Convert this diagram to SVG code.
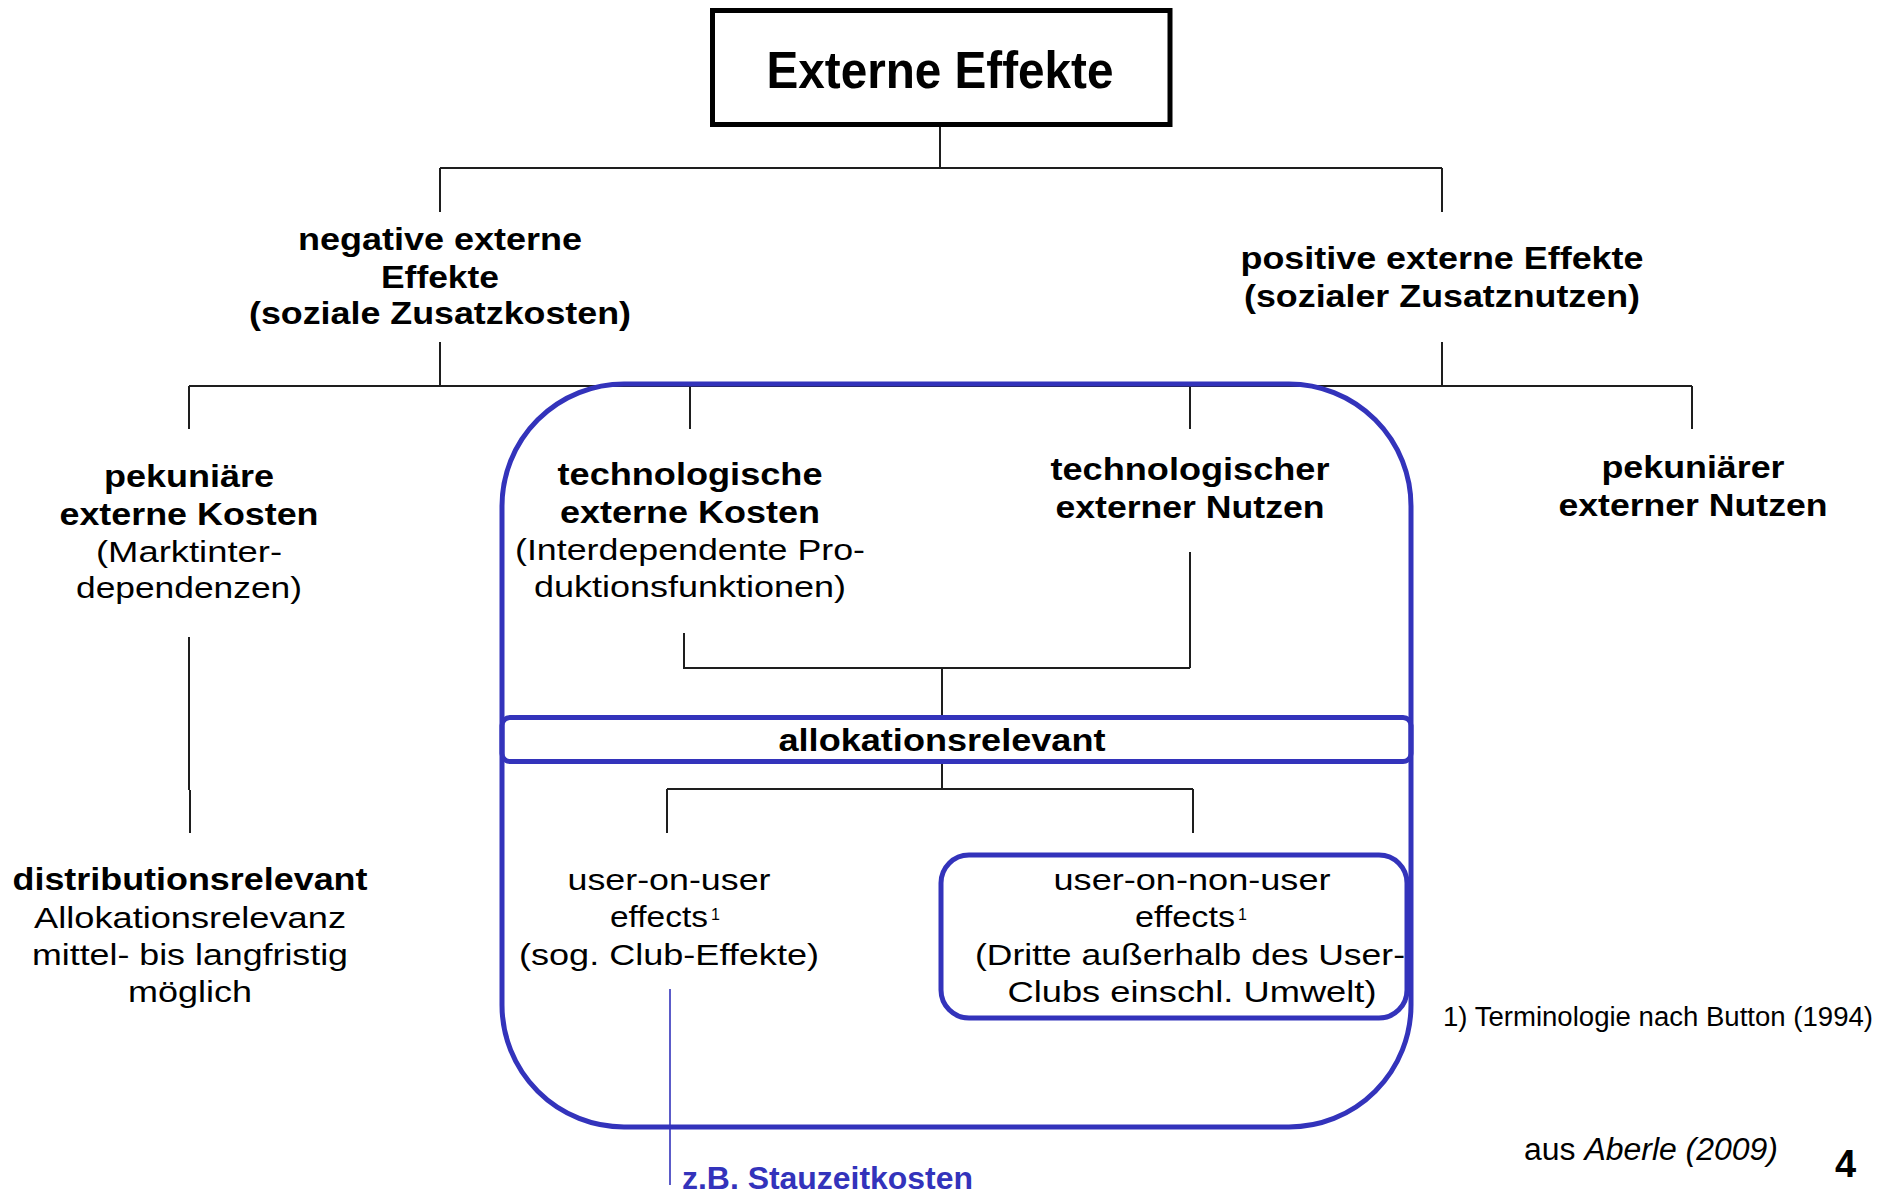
<svg xmlns="http://www.w3.org/2000/svg" width="1883" height="1196" viewBox="0 0 1883 1196">
<style>
text{font-family:"Liberation Sans",Arial,sans-serif;fill:#000;text-anchor:middle}
.b{font-weight:bold;font-size:31px}
.r{font-weight:normal;font-size:30px}
.sup{font-weight:normal;font-size:16px;text-anchor:start}
.ln{stroke:#1e1e1e;stroke-width:2;fill:none}
.bl{stroke:#3333BB;stroke-width:5;fill:none}
.blt{fill:#3333BB}
</style>
<rect x="0" y="0" width="1883" height="1196" fill="#fff"/>
<g id="connectors">
<path class="ln" d="M940 127V168M440 168H1442M440 168V212M1442 168V212"/>
<path class="ln" d="M440 342V386M1442 342V386M189 386H1692M189 386V429M690 386V429M1190 386V429M1692 386V429"/>
<path class="ln" d="M189 637V790M190 790V833"/>
<path class="ln" d="M684 633V668H1190M1190 552V668M942 668V715"/>
<path class="ln" d="M942 764V789M667 789H1193M667 789V833M1193 789V833"/>
<path d="M670 989V1185" stroke="#3333BB" stroke-width="1.6" fill="none"/>
</g>
<g id="regions">
<rect class="bl" x="502" y="384" width="909" height="743" rx="122" ry="122"/>
</g>
<g id="title">
<rect x="712.5" y="10.5" width="457.5" height="114" fill="none" stroke="#000" stroke-width="5"/>
<text x="940" y="88" font-weight="bold" font-size="52" textLength="347" lengthAdjust="spacingAndGlyphs">Externe Effekte</text>
</g>
<g id="negative">
<text class="b" x="440" y="250" textLength="284" lengthAdjust="spacingAndGlyphs">negative externe</text>
<text class="b" x="440" y="288" textLength="118" lengthAdjust="spacingAndGlyphs">Effekte</text>
<text class="b" x="440" y="324" textLength="382" lengthAdjust="spacingAndGlyphs">(soziale Zusatzkosten)</text>
</g>
<g id="positive">
<text class="b" x="1442" y="269" textLength="403" lengthAdjust="spacingAndGlyphs">positive externe Effekte</text>
<text class="b" x="1442" y="307" textLength="396" lengthAdjust="spacingAndGlyphs">(sozialer Zusatznutzen)</text>
</g>
<g id="pek-kosten">
<text class="b" x="189" y="487" textLength="170" lengthAdjust="spacingAndGlyphs">pekuniäre</text>
<text class="b" x="189" y="525" textLength="259" lengthAdjust="spacingAndGlyphs">externe Kosten</text>
<text class="r" x="189" y="562" textLength="186" lengthAdjust="spacingAndGlyphs">(Marktinter-</text>
<text class="r" x="189" y="598" textLength="226" lengthAdjust="spacingAndGlyphs">dependenzen)</text>
</g>
<g id="tech-kosten">
<text class="b" x="690" y="485" textLength="265" lengthAdjust="spacingAndGlyphs">technologische</text>
<text class="b" x="690" y="523" textLength="260" lengthAdjust="spacingAndGlyphs">externe Kosten</text>
<text class="r" x="690" y="560" textLength="350" lengthAdjust="spacingAndGlyphs">(Interdependente Pro-</text>
<text class="r" x="690" y="597" textLength="312" lengthAdjust="spacingAndGlyphs">duktionsfunktionen)</text>
</g>
<g id="tech-nutzen">
<text class="b" x="1190" y="480" textLength="279" lengthAdjust="spacingAndGlyphs">technologischer</text>
<text class="b" x="1190" y="518" textLength="269" lengthAdjust="spacingAndGlyphs">externer Nutzen</text>
</g>
<g id="pek-nutzen">
<text class="b" x="1693" y="478" textLength="183" lengthAdjust="spacingAndGlyphs">pekuniärer</text>
<text class="b" x="1693" y="516" textLength="269" lengthAdjust="spacingAndGlyphs">externer Nutzen</text>
</g>
<g id="allokationsrelevant">
<rect class="bl" x="502" y="717.5" width="909" height="44" rx="8" ry="8" fill="#fff"/>
<text class="b" x="942" y="751" textLength="327" lengthAdjust="spacingAndGlyphs">allokationsrelevant</text>
</g>
<g id="distributionsrelevant">
<text class="b" x="190" y="890" textLength="355" lengthAdjust="spacingAndGlyphs">distributionsrelevant</text>
<text class="r" x="190" y="928" textLength="312" lengthAdjust="spacingAndGlyphs">Allokationsrelevanz</text>
<text class="r" x="190" y="965" textLength="316" lengthAdjust="spacingAndGlyphs">mittel- bis langfristig</text>
<text class="r" x="190" y="1002" textLength="124" lengthAdjust="spacingAndGlyphs">möglich</text>
</g>
<g id="user-on-user">
<text class="r" x="669" y="890" textLength="203" lengthAdjust="spacingAndGlyphs">user-on-user</text>
<text class="r" x="659" y="927" textLength="98" lengthAdjust="spacingAndGlyphs">effects</text>
<text class="sup" x="711" y="920">1</text>
<text class="r" x="669" y="965" textLength="300" lengthAdjust="spacingAndGlyphs">(sog. Club-Effekte)</text>
</g>
<g id="user-on-non-user">
<rect class="bl" x="941" y="855" width="466" height="163" rx="28" ry="28"/>
<text class="r" x="1192" y="890" textLength="277" lengthAdjust="spacingAndGlyphs">user-on-non-user</text>
<text class="r" x="1185" y="927" textLength="100" lengthAdjust="spacingAndGlyphs">effects</text>
<text class="sup" x="1238" y="920">1</text>
<text class="r" x="1190" y="965" textLength="430" lengthAdjust="spacingAndGlyphs">(Dritte außerhalb des User-</text>
<text class="r" x="1192" y="1002" textLength="369" lengthAdjust="spacingAndGlyphs">Clubs einschl. Umwelt)</text>
</g>
<g id="beispiel">
<text class="b blt" x="682" y="1189" style="text-anchor:start" textLength="291" lengthAdjust="spacingAndGlyphs">z.B. Stauzeitkosten</text>
</g>
<g id="footnote">
<text x="1443" y="1026" font-size="27" style="text-anchor:start" textLength="430" lengthAdjust="spacingAndGlyphs">1) Terminologie nach Button (1994)</text>
</g>
<g id="source">
<text x="1524" y="1160" font-size="31" style="text-anchor:start" textLength="254" lengthAdjust="spacingAndGlyphs">aus <tspan font-style="italic">Aberle (2009)</tspan></text>
<text x="1835" y="1177" font-size="38" font-weight="bold" style="text-anchor:start">4</text>
</g>
</svg>
